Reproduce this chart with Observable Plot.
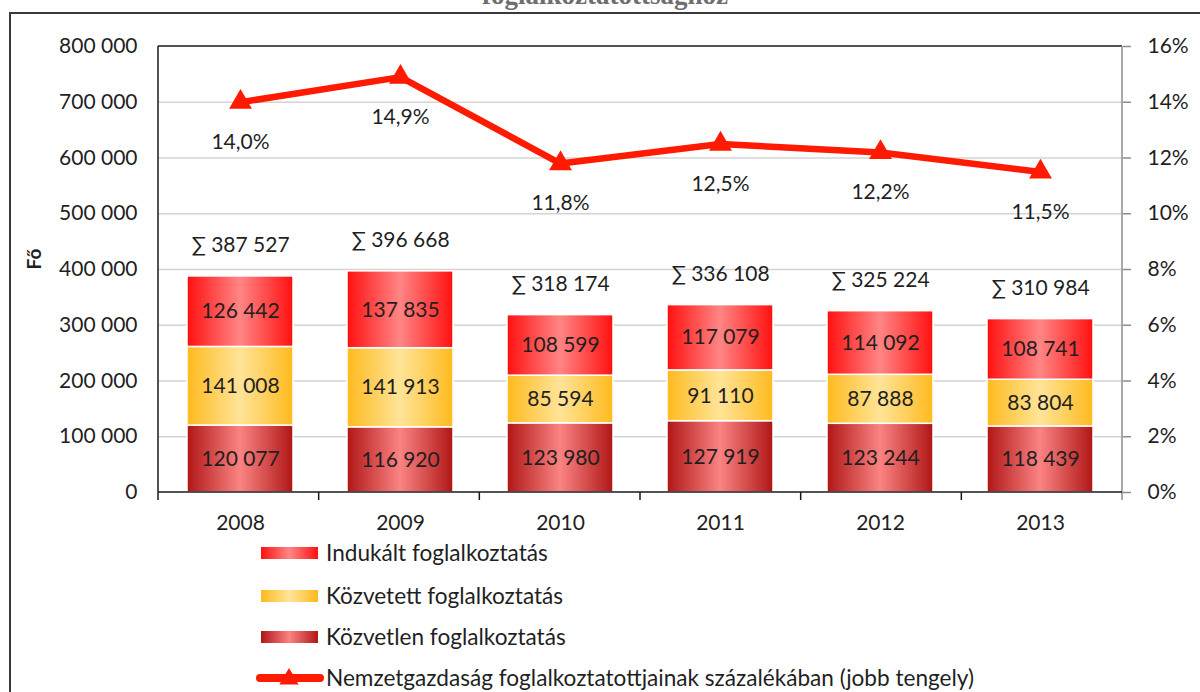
<!DOCTYPE html>
<html><head><meta charset="utf-8">
<script src="https://cdn.jsdelivr.net/npm/d3@7"></script>
<script src="https://cdn.jsdelivr.net/npm/@observablehq/plot@0.6"></script>
<style>
body{margin:0;width:1200px;height:692px;overflow:hidden;background:#fff;font-family:Lato,"DejaVu Sans",sans-serif;position:relative;}
#box{position:absolute;left:9px;top:12px;width:1300px;height:800px;border:2px solid #3a3a3a;box-sizing:border-box;}
#title{position:absolute;left:0;width:1210px;top:-18px;text-align:center;font:bold 27px/27px "Liberation Serif",serif;color:#6e6e6e;}
#chart{position:absolute;left:0;top:0;}
#legend{position:absolute;left:0;top:0;}
</style></head>
<body>
<div id="title">foglalkoztatottsághoz</div>
<div id="box"></div>
<div id="chart"></div>
<svg id="legend" width="1200" height="692"></svg>
<script>
const years = ["2008","2009","2010","2011","2012","2013"];
const kozvetlen = [120077,116920,123980,127919,123244,118439];
const kozvetett = [141008,141913,85594,91110,87888,83804];
const indukalt = [126442,137835,108599,117079,114092,108741];
const sums = [387527,396668,318174,336108,325224,310984];
const pct = [14.0,14.9,11.8,12.5,12.2,11.5];
const leftTicks = [0,100000,200000,300000,400000,500000,600000,700000,800000];
const rightTicks = [0,2,4,6,8,10,12,14,16];
const seriesNames = ["Indukált foglalkoztatás","Közvetett foglalkoztatás","Közvetlen foglalkoztatás","Nemzetgazdaság foglalkoztatottjainak százalékában (jobb tengely)"];

const K = 800000/16; // right axis -> left axis factor
const loc = d3.formatLocale({decimal:",", thousands:" ", grouping:[3]});
const fmt = loc.format(",d");
const pfmt = loc.format(".1f");

const data = years.map((y,i)=>({year:y, a:kozvetlen[i], b:kozvetett[i], c:indukalt[i], sum:sums[i], pct:pct[i],
  y0:0, y1:kozvetlen[i], y2:kozvetlen[i]+kozvetett[i], y3:kozvetlen[i]+kozvetett[i]+indukalt[i]}));

const RED="#ff1a00";
const frameMark = (index, scales, values, dims) => {
  const g = d3.create("svg:g");
  const x0 = dims.marginLeft, x1 = dims.width - dims.marginRight;
  const y0 = dims.marginTop, y1 = dims.height - dims.marginBottom;
  const step = (x1-x0)/years.length;
  g.append("line").attr("x1",x0).attr("x2",x1).attr("y1",y0).attr("y2",y0).attr("stroke","#1a1a1a").attr("stroke-width",1.5);
  g.append("line").attr("x1",x0).attr("x2",x0).attr("y1",y0).attr("y2",y1).attr("stroke","#1a1a1a").attr("stroke-width",1.5);
  g.append("line").attr("x1",x1).attr("x2",x1).attr("y1",y0).attr("y2",y1+8).attr("stroke","#8c8c8c").attr("stroke-width",1.5);
  g.append("line").attr("x1",x0).attr("x2",x1).attr("y1",y1).attr("y2",y1).attr("stroke","#1a1a1a").attr("stroke-width",1.5);
  for (let i=0;i<years.length;i++){
    const xx = x0 + i*step;
    g.append("line").attr("x1",xx).attr("x2",xx).attr("y1",y1).attr("y2",y1+8).attr("stroke","#1a1a1a").attr("stroke-width",1.5);
  }
  return g.node();
};

const txt = {fontSize:21, fill:"#1f1f1f", fontFamily:"Lato"};
const plot = Plot.plot({
  width:1200, height:540,
  marginLeft:158, marginRight:78, marginTop:46, marginBottom:48,
  style:{fontFamily:"Lato", background:"transparent", overflow:"visible"},
  x:{domain:years, paddingInner:0.34, paddingOuter:0.17, axis:null},
  y:{domain:[0,800000], axis:null},
  marks:[
    Plot.gridY({ticks:leftTicks.slice(1,-1), stroke:"#d4d4d4", strokeOpacity:1, strokeWidth:1.5}),
    Plot.barY(data,{x:"year", y1:"y0", y2:"y1", fill:"url(#gLen)", stroke:"#fff", strokeWidth:1.5}),
    Plot.barY(data,{x:"year", y1:"y1", y2:"y2", fill:"url(#gKet)", stroke:"#fff", strokeWidth:1.5}),
    Plot.barY(data,{x:"year", y1:"y2", y2:"y3", fill:"url(#gInd)", stroke:"#fff", strokeWidth:1.5}),
    Plot.text(data,{x:"year", y:d=>(d.y0+d.y1)/2, text:d=>fmt(d.a), ...txt}),
    Plot.text(data,{x:"year", y:d=>(d.y1+d.y2)/2, text:d=>fmt(d.b), ...txt}),
    Plot.text(data,{x:"year", y:d=>(d.y2+d.y3)/2, text:d=>fmt(d.c), ...txt}),
    Plot.text(data,{x:"year", y:"sum", dy:-31, text:d=>"∑ "+fmt(d.sum), ...txt}),
    Plot.line(data,{x:"year", y:d=>d.pct*K, stroke:RED, strokeWidth:6.5}),
    Plot.dot(data,{x:"year", y:d=>d.pct*K, symbol:"triangle", r:8.5, fill:RED, stroke:"none"}),
    Plot.text(data,{x:"year", y:d=>d.pct*K, dy:40, text:d=>pfmt(d.pct)+"%", ...txt}),
    Plot.axisY({anchor:"left", ticks:leftTicks, tickSize:0, tickPadding:21, tickFormat:fmt, fontSize:21, fill:"#1f1f1f", label:null}),
    Plot.axisY({anchor:"right", ticks:rightTicks.map(v=>v*K), tickFormat:v=>(v/K)+"%", tickSize:8, stroke:"#8c8c8c", strokeWidth:1.5, tickPadding:17, fontSize:21, fill:"#1f1f1f", label:null}),
    Plot.axisX({tickSize:0, tickPadding:23, fontSize:21, fill:"#1f1f1f", label:null}),
    Plot.text(["Fő"],{frameAnchor:"left", dx:-124, rotate:-90, text:d=>d, fontSize:19, fontWeight:"bold", fill:"#1f1f1f"}),
    frameMark
  ]
});
const defs = d3.select(plot).insert("defs",":first-child");
function grad(id, edge, mid){
  const lg = defs.append("linearGradient").attr("id",id).attr("x1","0").attr("x2","1").attr("y1","0").attr("y2","0");
  lg.append("stop").attr("offset","0").attr("stop-color",edge);
  lg.append("stop").attr("offset","0.5").attr("stop-color",mid);
  lg.append("stop").attr("offset","1").attr("stop-color",edge);
}
grad("gInd","#ff1010","#ff8585");
grad("gKet","#ffba1e","#ffe498");
grad("gLen","#b01616","#fb8383");
document.getElementById("chart").appendChild(plot);

// legend
const lg = d3.select("#legend");
const rowsY = [553,596,637,678];
const fills = ["url(#gInd)","url(#gKet)","url(#gLen)"];
seriesNames.forEach((name,i)=>{
  const cy = rowsY[i];
  if (i<3){
    lg.append("rect").attr("x",261).attr("y",cy-6).attr("width",57).attr("height",12).attr("fill",fills[i]);
  } else {
    lg.append("line").attr("x1",260).attr("x2",320).attr("y1",cy).attr("y2",cy).attr("stroke",RED).attr("stroke-width",8).attr("stroke-linecap","round");
    lg.append("path").attr("d",d3.symbol(d3.symbolTriangle, 160)()).attr("transform",`translate(289,${cy+1})`).attr("fill",RED);
  }
  lg.append("text").attr("x",326).attr("y",cy).attr("dy","0.35em").attr("font-family","Lato").attr("font-size",22.6).attr("fill","#1f1f1f").text(name);
});
</script>
</body></html>
